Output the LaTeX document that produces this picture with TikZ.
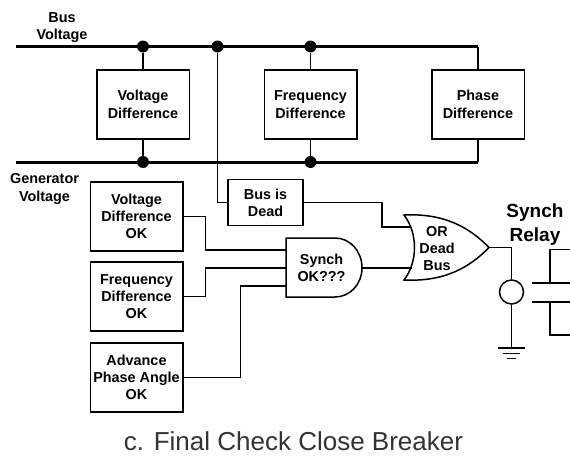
\documentclass[tikz,border=0pt]{standalone}
\usepackage{fontspec}
\setmainfont{Liberation Sans}
\tikzset{
  wire/.style={line width=1.5pt},
  busline/.style={line width=3pt},
  blockbox/.style={draw, line width=1.5pt, align=center, minimum width=92.5pt, minimum height=69pt, inner sep=0pt, font=\fontsize{14.4}{17.3}\selectfont\bfseries},
  dot/.style={circle, fill=black, inner sep=0pt, minimum size=12pt},
  lbl/.style={align=center, inner sep=0pt, font=\fontsize{14.4}{17.3}\selectfont\bfseries}
}
\begin{document}
\begin{tikzpicture}[x=1pt, y=-1pt]
\useasboundingbox (0,0) rectangle (570,455);

\node[lbl] (buslabel) at (62,27.5) {Bus\\Voltage};
\node[lbl] (genlabel) at (44.5,189) {Generator\\Voltage};

\coordinate (busstart) at (16,46.5);
\coordinate (busend) at (478,46.5);
\coordinate (genstart) at (16,162);
\coordinate (genend) at (478,162);

\node[blockbox] (vdiff) at (143,104.5) {Voltage\\Difference};
\node[blockbox] (fdiff) at (310.5,104.5) {Frequency\\Difference};
\node[blockbox] (pdiff) at (478,104.5) {Phase\\Difference};

\node[dot] (busdotv) at (143,46.5) {};
\node[dot] (busdotd) at (217.5,46.5) {};
\node[dot] (busdotf) at (310.5,46.5) {};
\node[dot] (gendotv) at (143,162) {};
\node[dot] (gendotf) at (310.5,162) {};

\draw[busline] (busstart) -- (busend);
\draw[busline] (genstart) -- (genend);
\draw[wire] (busdotv) -- (vdiff);
\draw[wire] (busdotf) -- (fdiff);
\draw[wire] (busend) -- (pdiff);
\draw[wire] (gendotv) -- (vdiff);
\draw[wire] (gendotf) -- (fdiff);
\draw[wire] (genend) -- (pdiff);

\node[blockbox] (vok) at (136.5,216.5) {Voltage\\Difference\\OK};
\node[blockbox] (fok) at (136.5,296.5) {Frequency\\Difference\\OK};
\node[blockbox] (aok) at (136.5,377.5) {Advance\\Phase Angle\\OK};
\node[blockbox, minimum width=75pt, minimum height=46pt] (dead) at (265.5,202.5) {Bus is\\Dead};

% and gate
\coordinate (andin1) at (286,250);
\coordinate (andin2) at (286,268);
\coordinate (andin3) at (286,286);
\coordinate (andout) at (362,268);
\draw[wire] (286,238) -- (335,238) .. controls (350,238) and (362,251) .. (362,268)
  .. controls (362,284) and (350,297) .. (335,297) -- (286,297) -- cycle;
\node[lbl] (andtext) at (321.5,267.5) {Synch\\OK???};

% or gate
\coordinate (orin1) at (411,227);
\coordinate (orin2) at (412,268);
\coordinate (orout) at (489,247.5);
\draw[wire] (404,215) .. controls (445,213) and (470,228) .. (489,247.5)
  .. controls (470,267) and (445,282) .. (404,280)
  .. controls (418,262) and (418,233) .. (404,215) -- cycle;
\node[lbl] (ortext) at (437,248.5) {OR\\Dead\\Bus};

\draw[wire] (busdotd) |- (dead.west);
\draw[wire] (vok.east) -- (205.5,216.5) |- (andin1);
\draw[wire] (fok.east) -- (205.5,296.5) |- (andin2);
\draw[wire] (aok.east) -- (240.5,377.5) |- (andin3);
\draw[wire] (dead.east) -- (382,202.5) |- (orin1);
\draw[wire] (andout) -- (orin2);

% relay
\node[circle, draw, line width=1.5pt, inner sep=0pt, minimum size=24pt] (coil) at (511.5,292) {};
\coordinate (gnd) at (511.5,348);
\draw[wire] (orout) -- (511.5,247.5) -- (coil);
\draw[wire] (coil) -- (gnd);
\draw[wire] (498,348) -- (525,348);
\draw[wire] (503,353.5) -- (520,353.5);
\draw[wire] (507,358.5) -- (516,358.5);

\node[align=center, inner sep=0pt, font=\fontsize{19}{24}\selectfont\bfseries] (relaylabel) at (535,225) {Synch\\Relay};

\draw[line width=2.2pt] (532,283) -- (570,283);
\draw[line width=2.2pt] (532,302) -- (570,302);
\draw[wire] (550,283) -- (550,249.5) -- (570,249.5);
\draw[wire] (550,302) -- (550,335) -- (570,335);

\node[inner sep=0pt, text=black!80, font=\fontsize{26}{30}\selectfont] (caption) at (293.5,441) {c. Final Check Close Breaker};
\end{tikzpicture}
\end{document}
